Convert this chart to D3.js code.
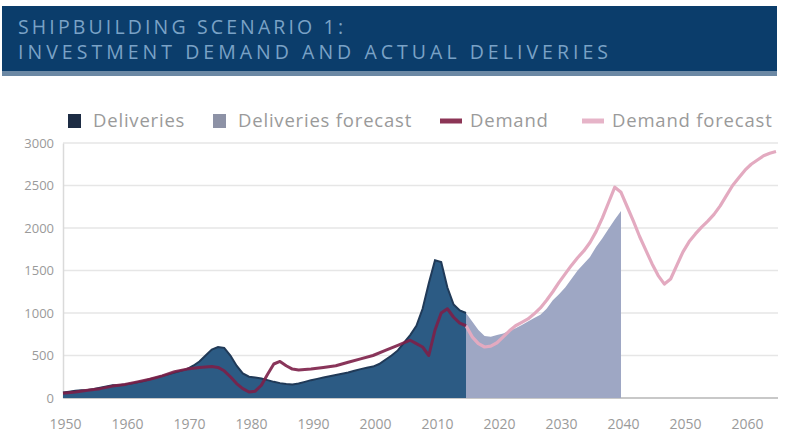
<!DOCTYPE html>
<html>
<head>
<meta charset="utf-8">
<script src="https://cdn.jsdelivr.net/npm/d3@7/dist/d3.min.js"></script>
<style>
  html, body { margin: 0; padding: 0; background: #fff; }
  svg { display: block; font-family: "Open Sans", "Noto Sans", sans-serif; }
</style>
</head>
<body>
<svg id="chart" width="785" height="440"></svg>
<script>
// Actual deliveries
const deliveryYears = [1950,1951,1952,1953,1954,1955,1956,1957,1958,1959,1960,1961,1962,1963,1964,1965,1966,1967,1968,1969,
  1970,1971,1972,1973,1974,1975,1976,1977,1978,1979,1980,1981,1982,1983,1984,1985,1986,1987,1988,1989,
  1990,1991,1992,1993,1994,1995,1996,1997,1998,1999,2000,2001,2002,2003,2004,2005,2006,2007,2008,2009,
  2010,2011,2012,2013,2014,2015];
const deliveryValues = [65,75,85,90,95,105,120,135,150,150,160,170,185,200,220,240,260,280,300,320,
  340,380,430,500,570,600,590,500,380,290,250,240,230,210,190,175,165,160,170,190,
  210,225,240,255,270,285,300,320,340,355,370,400,450,500,560,650,740,850,1050,1350,
  1620,1600,1300,1100,1030,1000];

// Forecast deliveries
const deliveryForecastYears = [2015,2016,2017,2018,2019,2020,2021,2022,2023,2024,2025,2026,2027,2028,2029,
  2030,2031,2032,2033,2034,2035,2036,2037,2038,2039,2040];
const deliveryForecastValues = [1000,900,800,730,720,740,760,790,820,860,900,940,980,1050,1150,
  1220,1300,1400,1500,1580,1660,1780,1880,1990,2100,2200];

// Actual investment demand
const demandYears = [1950,1952,1954,1956,1958,1960,1962,1964,1966,1968,1970,1972,1974,1975,1976,1977,1978,1979,
  1980,1981,1982,1983,1984,1985,1986,1987,1988,1990,1992,1994,1996,1998,2000,2002,2004,2006,2007,2008,
  2009,2010,2011,2012,2013,2014,2015];
const demandValues = [55,70,90,110,140,160,190,220,260,310,340,360,370,360,320,250,170,110,
  70,80,150,280,400,430,380,340,330,340,360,380,420,460,500,560,620,680,640,600,
  500,800,1000,1050,950,880,850];

// Forecast investment demand
const demandForecastYears = [2015,2016,2017,2018,2019,2020,2021,2022,2023,2024,2025,2026,2027,2028,2029,
  2030,2031,2032,2033,2034,2035,2036,2037,2038,2039,2040,2041,2042,2043,2044,2045,2046,2047,2048,2049,
  2050,2051,2052,2053,2054,2055,2056,2057,2058,2059,2060,2061,2062,2063,2064,2065];
const demandForecastValues = [850,720,640,600,610,650,720,790,850,890,930,990,1060,1150,1250,
  1360,1460,1560,1650,1730,1830,1960,2120,2300,2480,2420,2250,2080,1900,1740,1580,1440,1340,1400,1560,
  1720,1840,1930,2010,2080,2160,2260,2380,2500,2590,2680,2750,2800,2850,2880,2900];

// Axis ticks
const xTicks = [1950,1960,1970,1980,1990,2000,2010,2020,2030,2040,2050,2060];
const yTicks = [0,500,1000,1500,2000,2500,3000];

const titleLines = [
  {text: "SHIPBUILDING SCENARIO 1:", width: 325},
  {text: "INVESTMENT DEMAND AND ACTUAL DELIVERIES", width: 590}
];

const legendItems = [
  {label: "Deliveries", kind: "box", color: "#1d2c44", x: 68},
  {label: "Deliveries forecast", kind: "box", color: "#8d92a6", x: 213},
  {label: "Demand", kind: "line", color: "#8c3556", x: 440},
  {label: "Demand forecast", kind: "line", color: "#e6b4c8", x: 582}
];

const svg = d3.select("#chart");

// Title banner
svg.append("rect").attr("x", 2).attr("y", 6).attr("width", 775).attr("height", 66).attr("fill", "#0b3d6b");
svg.append("rect").attr("x", 2).attr("y", 71).attr("width", 775).attr("height", 5).attr("fill", "#6b88a4");
svg.append("g").selectAll("text").data(titleLines).join("text")
  .attr("x", 18).attr("y", (d, i) => 34 + i * 25)
  .attr("fill", "#7aa2c6").attr("font-size", 19.5)
  .attr("textLength", d => d.width).attr("lengthAdjust", "spacing")
  .text(d => d.text);

const x = d3.scaleLinear().domain([1950, 2065]).range([63, 776]);
const y = d3.scaleLinear().domain([0, 3000]).range([398, 143]);

// Gridlines
svg.append("g").selectAll("line").data(yTicks).join("line")
  .attr("x1", 63).attr("x2", 778)
  .attr("y1", d => y(d)).attr("y2", d => y(d))
  .attr("stroke", d => d === 0 ? "#c8c8c8" : "#e6e6e6").attr("stroke-width", d => d === 0 ? 2 : 1.5);

// Y axis
const yAxis = svg.append("g").attr("transform", "translate(63,0)")
  .call(d3.axisLeft(y).tickValues(yTicks).tickSize(0).tickPadding(9).tickFormat(d3.format("d")));
yAxis.select(".domain").attr("stroke", "#dadada").attr("stroke-width", 1.5);
yAxis.selectAll("text").attr("fill", "#9a9a9a").attr("font-size", 13).attr("font-family", "Open Sans, sans-serif");

// X axis
const xAxis = svg.append("g").attr("transform", "translate(0,398)")
  .call(d3.axisBottom(x).tickValues(xTicks).tickSize(0).tickPadding(21).tickFormat(d3.format("d")));
xAxis.select(".domain").remove();
xAxis.selectAll("text").attr("fill", "#9a9a9a").attr("font-size", 14).attr("dx", 2)
  .attr("font-family", "Open Sans, sans-serif");

const pts = (ys, vs) => ys.map((yr, i) => [yr, vs[i]]);

const area = d3.area().x(d => x(d[0])).y0(y(0)).y1(d => y(d[1]));
const line = d3.line().x(d => x(d[0])).y(d => y(d[1]));

// Deliveries areas
svg.append("path").datum(pts(deliveryForecastYears, deliveryForecastValues))
  .attr("d", area).attr("fill", "#9ea7c4");
svg.append("path").datum(pts(deliveryYears, deliveryValues))
  .attr("d", area).attr("fill", "#2c5b84");
svg.append("path").datum(pts(deliveryYears, deliveryValues))
  .attr("d", line).attr("fill", "none").attr("stroke", "#203a58").attr("stroke-width", 2);

// Demand lines
svg.append("path").datum(pts(demandForecastYears, demandForecastValues))
  .attr("d", line).attr("fill", "none").attr("stroke", "#e3aac0").attr("stroke-width", 3.2)
  .attr("stroke-linejoin", "round");
svg.append("path").datum(pts(demandYears, demandValues))
  .attr("d", line).attr("fill", "none").attr("stroke", "#7c1f48").attr("stroke-width", 3)
  .attr("stroke-linejoin", "round").attr("stroke-opacity", 0.9);

// Legend
const lg = svg.append("g").attr("transform", "translate(0,121)");
legendItems.forEach(it => {
  if (it.kind === "box") {
    lg.append("rect").attr("x", it.x).attr("y", -7).attr("width", 13).attr("height", 14).attr("fill", it.color);
  } else {
    lg.append("line").attr("x1", it.x).attr("x2", it.x + 22).attr("y1", 0).attr("y2", 0)
      .attr("stroke", it.color).attr("stroke-width", 5);
  }
  lg.append("text").attr("x", it.x + (it.kind === "box" ? 25 : 30)).attr("y", 6)
    .attr("fill", "#9a9a9a").attr("font-size", 18.5).attr("letter-spacing", 0.8).text(it.label);
});
</script>
</body>
</html>
